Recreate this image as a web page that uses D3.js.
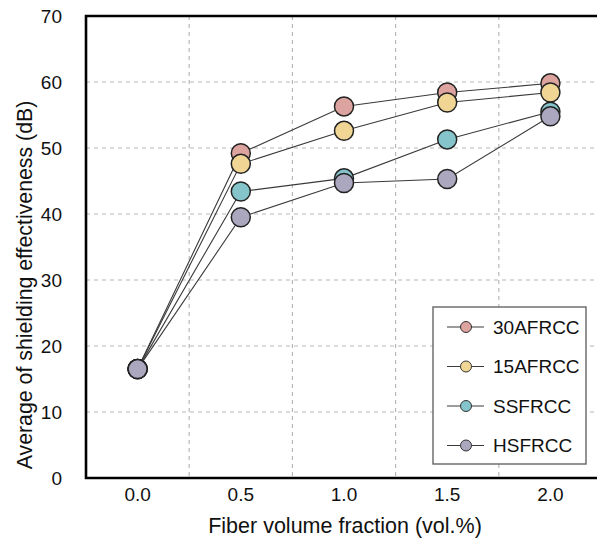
<!DOCTYPE html>
<html><head><meta charset="utf-8">
<script src="https://cdn.jsdelivr.net/npm/d3@7"></script>
<style>body{margin:0;background:#fff;} svg{display:block;font-family:"Liberation Sans",Arial,sans-serif;}</style>
</head><body>
<svg id="c" width="597" height="542"></svg>
<script>
const categories = ["0.0","0.5","1.0","1.5","2.0"];
const seriesNames = ["30AFRCC","15AFRCC","SSFRCC","HSFRCC"];
const s30A = [16.5, 49.2, 56.3, 58.4, 59.8];
const s15A = [16.5, 47.6, 52.6, 56.9, 58.4];
const sSS  = [16.5, 43.4, 45.4, 51.3, 55.5];
const sHS  = [16.5, 39.5, 44.7, 45.3, 54.8];
const yTicks = [0,10,20,30,40,50,60,70];
const colors = ["#dca39f","#f0d595","#84c4ca","#aba7bf"];
const seriesValues = [s30A, s15A, sSS, sHS];

const svg = d3.select("#c");
const L = 86, R = 602, T = 16, B = 478;
const x = d3.scaleBand().domain(categories).range([L, R]).padding(0);
const y = d3.scaleLinear().domain([0,70]).range([B, T]);

// grid
const g = svg.append("g");
g.selectAll("line.h").data(yTicks.filter(v=>v>0&&v<70)).join("line")
  .attr("x1", L).attr("x2", R).attr("y1", d=>y(d)).attr("y2", d=>y(d))
  .attr("stroke","#b8b8b8").attr("stroke-width",1.2).attr("stroke-dasharray","4,4");
g.selectAll("line.v").data(categories.slice(1)).join("line")
  .attr("x1", d=>x(d)).attr("x2", d=>x(d)).attr("y1", T).attr("y2", B)
  .attr("stroke","#b8b8b8").attr("stroke-width",1.2).attr("stroke-dasharray","4,4");

// axes
const yAxis = d3.axisLeft(y).tickValues(yTicks).tickSize(0).tickPadding(24);
const ya = svg.append("g").attr("transform",`translate(${L},0)`).call(yAxis);
ya.select(".domain").remove();
ya.selectAll("text").attr("font-size",19).attr("fill","#111").attr("font-family","Liberation Sans, Arial, sans-serif");
const xAxis = d3.axisBottom(x).tickSize(0).tickPadding(10);
const xa = svg.append("g").attr("transform",`translate(0,${B})`).call(xAxis);
xa.select(".domain").remove();
xa.selectAll("text").attr("font-size",19).attr("fill","#111").attr("font-family","Liberation Sans, Arial, sans-serif");

// frame
svg.append("path").attr("d",`M${R},${T}H${L}V${B}H${R}`).attr("fill","none").attr("stroke","#000").attr("stroke-width",2.6);

// titles
svg.append("text").attr("x", 345).attr("y", 533).attr("text-anchor","middle").attr("font-size",21.5).attr("fill","#111")
  .text("Fiber volume fraction (vol.%)");
svg.append("text").attr("transform",`translate(32,285) rotate(-90)`).attr("text-anchor","middle").attr("font-size",21.3).attr("fill","#111")
  .text("Average of shielding effectiveness (dB)");

// series
const line = d3.line().x((d,i)=>x(categories[i])+x.bandwidth()/2).y(d=>y(d));
seriesValues.forEach((vals,si)=>{
  const sg = svg.append("g");
  sg.append("path").datum(vals).attr("d",line).attr("fill","none").attr("stroke","#3a3a3a").attr("stroke-width",1.1);
  sg.selectAll("circle").data(vals).join("circle")
    .attr("cx",(d,i)=>x(categories[i])+x.bandwidth()/2).attr("cy",d=>y(d)).attr("r",9.5)
    .attr("fill",colors[si]).attr("stroke","#222").attr("stroke-width",1.5);
});

// legend
const lg = svg.append("g");
lg.append("rect").attr("x",433).attr("y",307).attr("width",153).attr("height",157)
  .attr("fill","#fff").attr("stroke","#666").attr("stroke-width",1.4);
seriesNames.forEach((n,i)=>{
  const yy = 327 + i*39.5;
  lg.append("line").attr("x1",447).attr("x2",484).attr("y1",yy).attr("y2",yy).attr("stroke","#3a3a3a").attr("stroke-width",1.1);
  lg.append("circle").attr("cx",466).attr("cy",yy).attr("r",5.5).attr("fill",colors[i]).attr("stroke","#333").attr("stroke-width",1);
  lg.append("text").attr("x",493).attr("y",yy).attr("dy","0.36em").attr("font-size",19).attr("fill","#111").text(n);
});
</script>
</body></html>
